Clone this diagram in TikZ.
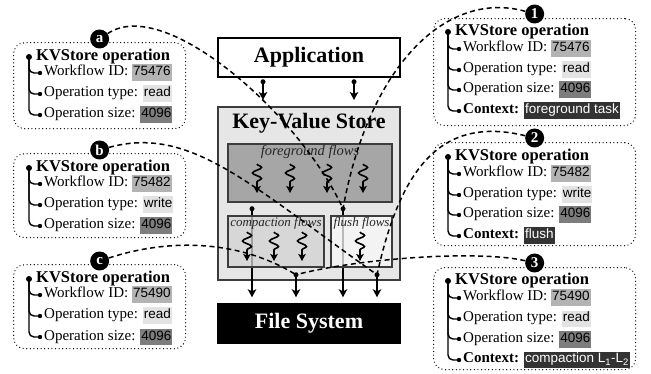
\documentclass[tikz,border=0pt]{standalone}
\usepackage{fontspec}
\setmainfont{Liberation Serif}
\setsansfont{Liberation Sans}
\usetikzlibrary{arrows.meta,decorations.pathmorphing}

\definecolor{idbg}{HTML}{B3B3B3}
\definecolor{typebg}{HTML}{E3E3E3}
\definecolor{sizebg}{HTML}{7D7D7D}
\definecolor{ctxbg}{HTML}{333333}
\definecolor{kvfill}{HTML}{E6E6E6}
\definecolor{fgfill}{HTML}{A6A6A6}
\definecolor{cpfill}{HTML}{D3D3D3}
\definecolor{flfill}{HTML}{F8F8F8}
\definecolor{edge}{HTML}{3C3C3C}

% value highlights
\newcommand{\val}[2]{{\setlength{\fboxsep}{1pt}\colorbox{#1}{\sffamily\fontsize{13.5}{15}\selectfont\strut #2}}}
\newcommand{\ctxval}[1]{{\setlength{\fboxsep}{1pt}\colorbox{ctxbg}{\color{white}\sffamily\fontsize{13.5}{15}\selectfont\strut #1}}}

\tikzset{
  opframe/.style={draw, line width=1.3pt, line cap=round, dash pattern=on 0pt off 3.6pt,
    rounded corners=11pt, anchor=north west, inner sep=0pt},
  optag/.style={circle, fill=black, text=white, inner sep=0pt, minimum size=19pt,
    font=\fontsize{15}{15}\selectfont\bfseries},
  optitle/.style={anchor=west, inner sep=0pt, xshift=7pt, font=\fontsize{16.5}{18}\selectfont\bfseries},
  opitem/.style={anchor=west, inner sep=0pt, xshift=4pt, font=\fontsize{15}{17}\selectfont},
  branch/.style={line width=1.4pt, rounded corners=5pt},
  oplink/.style={line width=1.5pt, dash pattern=on 5pt off 3.5pt},
  appbox/.style={draw, line width=1.5pt, fill=white, font=\fontsize{22}{24}\selectfont\bfseries},
  kvbox/.style={draw=edge, line width=2pt, fill=kvfill},
  flowbox/.style={draw=edge, line width=1.5pt},
  flowname/.style={anchor=north, inner sep=1pt, text=black!85, font=\fontsize{13}{14}\selectfont\itshape},
  fsbox/.style={draw, line width=1.5pt, fill=black, text=white, font=\fontsize{22}{24}\selectfont\bfseries},
  feed/.style={line width=1.5pt, -{Stealth[length=8pt,width=8.5pt,inset=2pt]}},
  flowsq/.style={line width=1.6pt, -{Stealth[length=7pt,width=7.5pt,inset=1.5pt]}, decorate,
    decoration={snake, amplitude=4.5pt, segment length=11pt, post length=6pt}}
}

\begin{document}
\begin{tikzpicture}[x=1pt, y=-1pt]
\useasboundingbox (0,0) rectangle (651,374);

% key-value store
\node[appbox, minimum width=182pt, minimum height=39pt] (app) at (309,57.5) {Application};
\node[kvbox, minimum width=182pt, minimum height=173pt] (kvs) at (309,193.5) {};
\node[font=\fontsize{22}{24}\selectfont\bfseries] (kvname) at (309,123) {Key-Value Store};
\node[flowbox, fill=fgfill, minimum width=164pt, minimum height=58pt] (fg) at (310,173) {};
\node[flowname, font=\fontsize{14.5}{15}\selectfont\itshape] (fgname) at ([yshift=-1pt]fg.north) {foreground flows};
\node[fsbox, minimum width=182pt, minimum height=39pt] (fs) at (309,323.5) {File System};

\foreach \s in {-46,45}{
  \fill ([xshift=\s pt,yshift=-4pt]app.south) circle (2.5pt);
  \draw[feed] ([xshift=\s pt,yshift=-4pt]app.south) -- ([xshift=\s pt,yshift=6pt]kvs.north);
}

\coordinate (fgout1) at ([xshift=-58pt,yshift=-6pt]fg.south);
\coordinate (fgout2) at ([xshift=33pt,yshift=-6pt]fg.south);
\foreach \c in {fgout1,fgout2}{
  \fill (\c) circle (2.5pt);
  \draw[feed] (\c) -- ([yshift=6pt]\c |- fs.north);
}

\node[flowbox, fill=cpfill, fill opacity=0.75, text opacity=1, minimum width=96pt, minimum height=51pt] (cp) at (276,241.5) {};
\node[flowname] (cpname) at ([yshift=-1pt]cp.north) {compaction flows};
\node[flowbox, fill=flfill, fill opacity=0.75, text opacity=1, minimum width=61pt, minimum height=51pt] (fl) at (361.5,241.5) {};
\node[flowname] (flname) at ([yshift=-1pt]fl.north) {flush flows};

\foreach \x in {257,290,327,363}
  \draw[flowsq] (\x,164) -- (\x,193);
\foreach \x in {247,274,302,360}
  \draw[flowsq] (\x,232) -- (\x,261);

\coordinate (cpout) at ([xshift=20pt,yshift=-7pt]cp.south);
\coordinate (flout) at ([xshift=15.5pt,yshift=-7pt]fl.south);
\foreach \c in {cpout,flout}{
  \fill (\c) circle (2.5pt);
  \draw[feed] (\c) -- ([yshift=6pt]\c |- fs.north);
}

% operations seen by the store
\foreach \nm/\ytop/\ybot/\yroot/\wid/\otype in {a/42/128/57/75476/read, b/153/237/168/75482/write, c/264/348/279/75490/read}{
  \node[opframe, minimum width=172pt, minimum height={(\ybot-\ytop)*1pt}] (op\nm) at (13,\ytop) {};
  \node[optag] (tag\nm) at ([yshift=3pt]op\nm.north) {\nm};
  \coordinate (rt\nm) at (29,\yroot);
  \coordinate (wd\nm) at (40,\yroot+16);
  \coordinate (td\nm) at (40,\yroot+37);
  \coordinate (sd\nm) at (40,\yroot+58);
  \node[optitle] (ti\nm) at (rt\nm) {KVStore operation};
  \node[opitem] (wf\nm) at (wd\nm) {Workflow ID: \val{idbg}{\wid}};
  \node[opitem] (ty\nm) at (td\nm) {Operation type: \val{typebg}{\otype}};
  \node[opitem] (sz\nm) at (sd\nm) {Operation size: \val{sizebg}{4096}};
  \foreach \d in {wd,td,sd}{
    \draw[branch] (rt\nm) |- (\d\nm);
    \fill (\d\nm) circle (2.2pt);
  }
  \fill (rt\nm) circle (3pt);
}

% operations seen by the file system
\foreach \nm/\ytop/\ybot/\yroot/\wid/\otype/\ctx in {1/18/125/32/75476/read/{foreground task}, 2/142/245/157/75482/write/{flush}, 3/267/369/281/75490/read/{compaction L\textsubscript{1}-L\textsubscript{2}}}{
  \node[opframe, minimum width=202pt, minimum height={(\ybot-\ytop)*1pt}] (op\nm) at (433,\ytop) {};
  \node[optag] (tag\nm) at ([yshift=4pt]op\nm.north) {\nm};
  \coordinate (rt\nm) at (448,\yroot);
  \coordinate (wd\nm) at (459,\yroot+17);
  \coordinate (td\nm) at (459,\yroot+38);
  \coordinate (sd\nm) at (459,\yroot+58);
  \coordinate (cd\nm) at (459,\yroot+79);
  \node[optitle] (ti\nm) at (rt\nm) {KVStore operation};
  \node[opitem] (wf\nm) at (wd\nm) {Workflow ID: \val{idbg}{\wid}};
  \node[opitem] (ty\nm) at (td\nm) {Operation type: \val{typebg}{\otype}};
  \node[opitem] (sz\nm) at (sd\nm) {Operation size: \val{sizebg}{4096}};
  \node[opitem] (cx\nm) at (cd\nm) {\textbf{Context:} \ctxval{\ctx}};
  \foreach \d in {wd,td,sd,cd}{
    \draw[branch] (rt\nm) |- (\d\nm);
    \fill (\d\nm) circle (2.2pt);
  }
  \fill (rt\nm) circle (3pt);
}

% which flow issues what
\draw[oplink] (taga) .. controls (165,-5) and (300,115) .. (fgout2);
\draw[oplink] (tag1) .. controls (450,-10) and (370,60) .. (fgout2);
\draw[oplink] (tagb) .. controls (190,125) and (250,185) .. (flout);
\draw[oplink] (tag2) .. controls (440,115) and (400,170) .. (flout);
\draw[oplink] (tagc) .. controls (170,238) and (240,240) .. (cpout);
\draw[oplink] (tag3) .. controls (480,250) and (360,258) .. (cpout);
\end{tikzpicture}
\end{document}
